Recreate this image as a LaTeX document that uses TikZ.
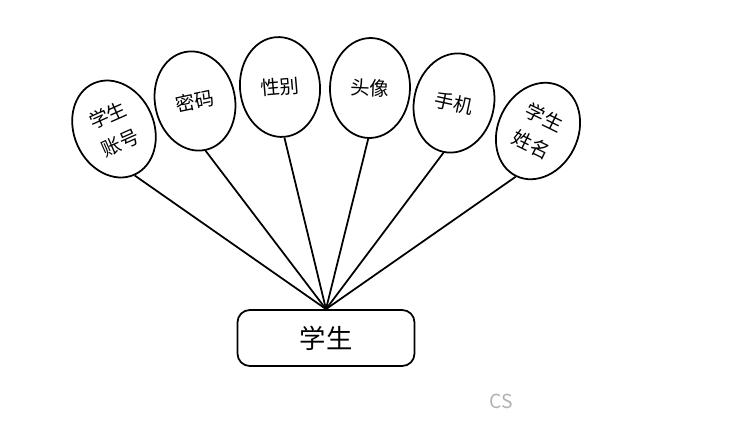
\documentclass[tikz,border=0pt]{standalone}
\usepackage{fontspec}
\setmainfont{Noto Sans CJK SC}
\usetikzlibrary{shapes.geometric}

\begin{document}
\begin{tikzpicture}[x=0.02cm, y=-0.02cm,
  attr/.style={draw, ellipse, line width=1pt, minimum width=1.6cm,
               minimum height=2cm, inner sep=0pt, align=center,
               font=\fontsize{11}{17}\selectfont},
  entity/.style={draw, rounded corners=7pt, line width=1pt,
                 minimum width=3.54cm, minimum height=1.12cm,
                 font=\fontsize{15}{18}\selectfont},
  link/.style={line width=1pt},
]
  \useasboundingbox (0,0) rectangle (754,420);

  % Nodes
  \node[entity] (student) at (326,338) {学生};
  \node[attr, rotate=24] (account) at (114,129) {学生\\账号};
  \node[attr, rotate=12] (pwd) at (195,101) {密码};
  \node[attr, rotate=5] (gender) at (280,87) {性别};
  \node[attr, rotate=-2] (avatar) at (370,88) {头像};
  \node[attr, rotate=-12] (phone) at (454,103) {手机};
  \node[attr, rotate=-26] (name) at (538,131) {学生\\姓名};

  % Edges
  \foreach \a in {account, pwd, gender, avatar, phone, name}
    \draw[link] (\a.south) -- (student.north);

  % Watermark
  \node[gray!60, font=\fontsize{11}{13}\selectfont] (mark) at (501,401) {CS};
\end{tikzpicture}
\end{document}
